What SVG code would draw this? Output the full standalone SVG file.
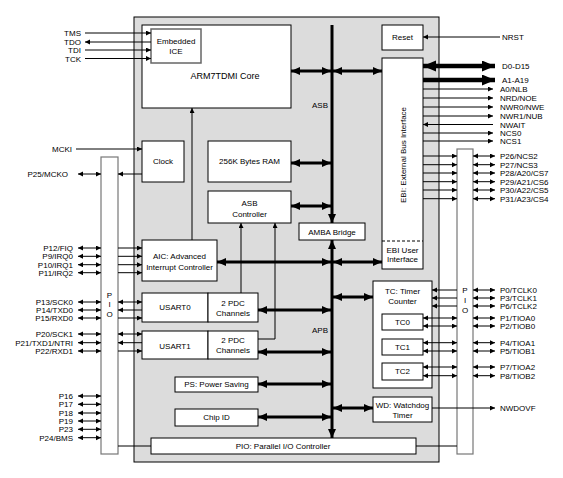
<svg xmlns="http://www.w3.org/2000/svg" width="563" height="478" viewBox="0 0 563 478">
<style>
.box{fill:#fff;stroke:#000;stroke-width:1}
.pio{fill:#fff;stroke:#777;stroke-width:1.2}
.t{font-family:"Liberation Sans",Arial,sans-serif;font-size:8px;fill:#000}
.m{text-anchor:middle}
.e{text-anchor:end}
.ln{stroke:#000;stroke-width:1;fill:none}
.th{stroke:#000;stroke-width:3;fill:none}
.bg{stroke:#000;stroke-width:4.5;fill:none}
</style>
<defs>
<marker id="a" markerUnits="userSpaceOnUse" markerWidth="6" markerHeight="6" refX="5" refY="2.5" orient="auto-start-reverse"><path d="M0,0 L5,2.5 L0,5 z" fill="#000"/></marker>
<marker id="b" markerUnits="userSpaceOnUse" markerWidth="10" markerHeight="9" refX="9" refY="4" orient="auto-start-reverse"><path d="M0,0 L9,4 L0,8 z" fill="#000"/></marker>
<marker id="c" markerUnits="userSpaceOnUse" markerWidth="14" markerHeight="12" refX="13" refY="5.5" orient="auto-start-reverse"><path d="M0,0 L13,5.5 L0,11 z" fill="#000"/></marker>
</defs>
<rect width="563" height="478" fill="#fff"/>
<g id="chip"><rect x="134" y="17" width="305" height="445" fill="#dcdcdc" stroke="#000" stroke-width="1"/></g>
<g id="arm"><rect class="box" x="142" y="25" width="149" height="83"/><text class="t m" x="225" y="79" style="font-size:9px">ARM7TDMI Core</text></g>
<g id="ice"><rect x="151" y="29" width="50" height="34" fill="#fff" stroke="#666" stroke-width="1.5"/><text class="t m" x="176" y="44">Embedded</text><text class="t m" x="176" y="54">ICE</text></g>
<g id="reset"><rect class="box" x="382" y="25" width="41" height="25"/><text class="t m" x="402.5" y="40">Reset</text></g>
<g id="ebi"><rect class="box" x="382" y="58" width="41" height="211"/><line x1="382" y1="241" x2="423" y2="241" stroke="#000" stroke-dasharray="3,2"/><text class="t m" transform="translate(406,155) rotate(-90)" x="0" y="0">EBI: External Bus Interface</text><text class="t m" x="402.5" y="253">EBI User</text><text class="t m" x="402.5" y="262">Interface</text></g>
<g id="clock"><rect class="box" x="142" y="141" width="42" height="41"/><text class="t m" x="163" y="164">Clock</text></g>
<g id="ram"><rect class="box" x="208" y="141" width="83" height="41"/><text class="t m" x="249.5" y="164">256K Bytes RAM</text></g>
<g id="asbc"><rect class="box" x="208" y="191" width="83" height="32"/><text class="t m" x="249.5" y="206">ASB</text><text class="t m" x="249.5" y="217">Controller</text></g>
<g id="amba"><rect class="box" x="299" y="223" width="66" height="17"/><text class="t m" x="332" y="235">AMBA Bridge</text></g>
<g id="aic"><rect class="box" x="142" y="240" width="75" height="41"/><text class="t m" x="179.5" y="259">AIC: Advanced</text><text class="t m" x="179.5" y="270">Interrupt Controller</text></g>
<g id="usart0"><rect class="box" x="142" y="293" width="66" height="29"/><text class="t m" x="175" y="310">USART0</text></g>
<g id="pdc0"><rect class="box" x="208" y="293" width="50" height="29"/><text class="t m" x="233" y="306">2 PDC</text><text class="t m" x="233" y="316">Channels</text></g>
<g id="usart1"><rect class="box" x="142" y="331" width="66" height="28"/><text class="t m" x="175" y="349">USART1</text></g>
<g id="pdc1"><rect class="box" x="208" y="331" width="50" height="28"/><text class="t m" x="233" y="343">2 PDC</text><text class="t m" x="233" y="353">Channels</text></g>
<g id="ps"><rect class="box" x="175" y="377" width="83" height="15"/><text class="t m" x="216.5" y="387">PS: Power Saving</text></g>
<g id="chipid"><rect class="box" x="175" y="409" width="83" height="17"/><text class="t m" x="216.5" y="420">Chip ID</text></g>
<g id="tc"><rect class="box" x="373" y="281" width="59" height="107"/><text class="t m" x="402.5" y="294">TC: Timer</text><text class="t m" x="402.5" y="304">Counter</text></g>
<g id="tc0"><rect class="box" x="382" y="314" width="41" height="16"/><text class="t m" x="402.5" y="325">TC0</text></g>
<g id="tc1"><rect class="box" x="382" y="339" width="41" height="16"/><text class="t m" x="402.5" y="350">TC1</text></g>
<g id="tc2"><rect class="box" x="382" y="363" width="41" height="17"/><text class="t m" x="402.5" y="374">TC2</text></g>
<g id="wd"><rect class="box" x="373" y="397" width="59" height="25"/><text class="t m" x="402.5" y="408">WD: Watchdog</text><text class="t m" x="402.5" y="418">Timer</text></g>
<g id="pioc"><rect class="box" x="151" y="438" width="265" height="16"/><text class="t m" x="283" y="449">PIO: Parallel I/O Controller</text></g>
<g id="pioL"><rect class="pio" x="101" y="157" width="17" height="297"/><text class="t m" x="109.5" y="298">P</text><text class="t m" x="109.5" y="307">I</text><text class="t m" x="109.5" y="317">O</text></g>
<g id="pioR"><rect class="pio" x="457" y="149" width="16" height="305"/><text class="t m" x="465" y="293">P</text><text class="t m" x="465" y="303">I</text><text class="t m" x="465" y="313">O</text></g>
<g id="connectors">
<g class="ln">
<path d="M85,33 H151" marker-end="url(#a)"/>
<path d="M151,42 H85" marker-end="url(#a)"/>
<path d="M85,50 H151" marker-end="url(#a)"/>
<path d="M85,58.5 H151" marker-end="url(#a)"/>
<path d="M192,240 V108" marker-end="url(#a)"/>
<path d="M241,293 V223" marker-end="url(#a)"/>
<path d="M258,339 H275 V223" marker-end="url(#a)"/>
<path d="M500,37 H423" marker-end="url(#a)"/>
<path d="M423,89 H493" marker-end="url(#a)"/>
<path d="M423,98 H493" marker-end="url(#a)"/>
<path d="M423,107 H493" marker-end="url(#a)"/>
<path d="M423,116 H493" marker-end="url(#a)"/>
<path d="M493,124.5 H423" marker-end="url(#a)"/>
<path d="M423,133 H493" marker-end="url(#a)"/>
<path d="M423,141 H493" marker-end="url(#a)"/>
<path d="M423,156 H457" marker-end="url(#a)"/>
<path d="M423,164.7 H457" marker-end="url(#a)"/>
<path d="M423,173 H457" marker-end="url(#a)"/>
<path d="M423,181.7 H457" marker-end="url(#a)"/>
<path d="M423,190 H457" marker-end="url(#a)"/>
<path d="M423,198.7 H457" marker-end="url(#a)"/>
<path d="M473,156 H495" marker-start="url(#a)" marker-end="url(#a)"/>
<path d="M473,164.7 H495" marker-start="url(#a)" marker-end="url(#a)"/>
<path d="M473,173 H495" marker-start="url(#a)" marker-end="url(#a)"/>
<path d="M473,181.7 H495" marker-start="url(#a)" marker-end="url(#a)"/>
<path d="M473,190 H495" marker-start="url(#a)" marker-end="url(#a)"/>
<path d="M473,198.7 H495" marker-start="url(#a)" marker-end="url(#a)"/>
<path d="M457,290 H432" marker-end="url(#a)"/>
<path d="M457,298 H432" marker-end="url(#a)"/>
<path d="M457,306 H432" marker-end="url(#a)"/>
<path d="M423,318 H457" marker-start="url(#a)" marker-end="url(#a)"/>
<path d="M423,326 H457" marker-start="url(#a)" marker-end="url(#a)"/>
<path d="M423,342.7 H457" marker-start="url(#a)" marker-end="url(#a)"/>
<path d="M423,351 H457" marker-start="url(#a)" marker-end="url(#a)"/>
<path d="M423,367 H457" marker-start="url(#a)" marker-end="url(#a)"/>
<path d="M423,375.7 H457" marker-start="url(#a)" marker-end="url(#a)"/>
<path d="M473,290 H495" marker-start="url(#a)" marker-end="url(#a)"/>
<path d="M473,298 H495" marker-start="url(#a)" marker-end="url(#a)"/>
<path d="M473,306 H495" marker-start="url(#a)" marker-end="url(#a)"/>
<path d="M473,318 H495" marker-start="url(#a)" marker-end="url(#a)"/>
<path d="M473,326 H495" marker-start="url(#a)" marker-end="url(#a)"/>
<path d="M473,342.7 H495" marker-start="url(#a)" marker-end="url(#a)"/>
<path d="M473,351 H495" marker-start="url(#a)" marker-end="url(#a)"/>
<path d="M473,367 H495" marker-start="url(#a)" marker-end="url(#a)"/>
<path d="M473,375.7 H495" marker-start="url(#a)" marker-end="url(#a)"/>
<path d="M432,408 H495" marker-end="url(#a)"/>
<path d="M416,446 H457"/>
<path d="M118,446 H151"/>
<path d="M76,149 H142" marker-end="url(#a)"/>
<path d="M78,174 H101" marker-start="url(#a)" marker-end="url(#a)"/>
<path d="M142,174 H118" marker-end="url(#a)"/>
<path d="M78,248 H101" marker-start="url(#a)" marker-end="url(#a)"/>
<path d="M78,256.3 H101" marker-start="url(#a)" marker-end="url(#a)"/>
<path d="M78,264.7 H101" marker-start="url(#a)" marker-end="url(#a)"/>
<path d="M78,272.7 H101" marker-start="url(#a)" marker-end="url(#a)"/>
<path d="M118,248 H142" marker-end="url(#a)"/>
<path d="M118,256.3 H142" marker-end="url(#a)"/>
<path d="M118,264.7 H142" marker-end="url(#a)"/>
<path d="M118,272.7 H142" marker-end="url(#a)"/>
<path d="M78,302 H101" marker-start="url(#a)" marker-end="url(#a)"/>
<path d="M78,310 H101" marker-start="url(#a)" marker-end="url(#a)"/>
<path d="M78,318 H101" marker-start="url(#a)" marker-end="url(#a)"/>
<path d="M118,302 H142" marker-start="url(#a)" marker-end="url(#a)"/>
<path d="M142,310 H118" marker-end="url(#a)"/>
<path d="M118,318 H142" marker-end="url(#a)"/>
<path d="M78,334 H101" marker-start="url(#a)" marker-end="url(#a)"/>
<path d="M78,342.7 H101" marker-start="url(#a)" marker-end="url(#a)"/>
<path d="M78,351 H101" marker-start="url(#a)" marker-end="url(#a)"/>
<path d="M118,334 H142" marker-start="url(#a)" marker-end="url(#a)"/>
<path d="M142,342.7 H118" marker-end="url(#a)"/>
<path d="M118,351 H142" marker-end="url(#a)"/>
<path d="M78,396 H101" marker-start="url(#a)" marker-end="url(#a)"/>
<path d="M78,404.3 H101" marker-start="url(#a)" marker-end="url(#a)"/>
<path d="M78,413 H101" marker-start="url(#a)" marker-end="url(#a)"/>
<path d="M78,421 H101" marker-start="url(#a)" marker-end="url(#a)"/>
<path d="M78,429.3 H101" marker-start="url(#a)" marker-end="url(#a)"/>
<path d="M78,437.7 H101" marker-start="url(#a)" marker-end="url(#a)"/>
</g>
<g class="th">
<path d="M332,25 V223" marker-end="url(#b)"/>
<path d="M332,240 V438" marker-start="url(#b)" marker-end="url(#b)"/>
<path d="M291,71 H331" marker-start="url(#b)" marker-end="url(#b)"/>
<path d="M333,71 H382" marker-start="url(#b)" marker-end="url(#b)"/>
<path d="M291,163 H331" marker-start="url(#b)" marker-end="url(#b)"/>
<path d="M291,206 H331" marker-start="url(#b)" marker-end="url(#b)"/>
<path d="M217,262 H331" marker-start="url(#b)" marker-end="url(#b)"/>
<path d="M333,262 H382" marker-start="url(#b)" marker-end="url(#b)"/>
<path d="M333,297 H373" marker-start="url(#b)" marker-end="url(#b)"/>
<path d="M258,310 H331" marker-start="url(#b)" marker-end="url(#b)"/>
<path d="M258,352 H331" marker-start="url(#b)" marker-end="url(#b)"/>
<path d="M258,384 H331" marker-start="url(#b)" marker-end="url(#b)"/>
<path d="M258,417 H331" marker-start="url(#b)" marker-end="url(#b)"/>
<path d="M333,408 H373" marker-start="url(#b)" marker-end="url(#b)"/>
</g>
<g class="bg">
<path d="M423,66 H495" marker-start="url(#c)" marker-end="url(#c)"/>
<path d="M423,80 H495" marker-end="url(#c)"/>
</g>
</g>
<g id="labels">
<text class="t" x="320" y="108" text-anchor="middle">ASB</text>
<text class="t" x="320" y="333" text-anchor="middle">APB</text>
<text class="t e" x="81" y="36">TMS</text>
<text class="t e" x="81" y="45">TDO</text>
<text class="t e" x="81" y="53">TDI</text>
<text class="t e" x="81" y="61.5">TCK</text>
<text class="t e" x="72" y="152">MCKI</text>
<text class="t e" x="68" y="177">P25/MCKO</text>
<text class="t e" x="73" y="251">P12/FIQ</text>
<text class="t e" x="73" y="259.3">P9/IRQ0</text>
<text class="t e" x="73" y="267.7">P10/IRQ1</text>
<text class="t e" x="73" y="275.7">P11/IRQ2</text>
<text class="t e" x="73" y="305">P13/SCK0</text>
<text class="t e" x="73" y="313">P14/TXD0</text>
<text class="t e" x="73" y="321">P15/RXD0</text>
<text class="t e" x="73" y="337">P20/SCK1</text>
<text class="t e" x="73" y="345.7">P21/TXD1/NTRI</text>
<text class="t e" x="73" y="354">P22/RXD1</text>
<text class="t e" x="73" y="399">P16</text>
<text class="t e" x="73" y="407.3">P17</text>
<text class="t e" x="73" y="416">P18</text>
<text class="t e" x="73" y="424">P19</text>
<text class="t e" x="73" y="432.3">P23</text>
<text class="t e" x="73" y="440.7">P24/BMS</text>
<text class="t" x="502" y="40">NRST</text>
<text class="t" x="502" y="69">D0-D15</text>
<text class="t" x="502" y="83">A1-A19</text>
<text class="t" x="500" y="92">A0/NLB</text>
<text class="t" x="500" y="101">NRD/NOE</text>
<text class="t" x="500" y="110">NWR0/NWE</text>
<text class="t" x="500" y="119">NWR1/NUB</text>
<text class="t" x="500" y="127.5">NWAIT</text>
<text class="t" x="500" y="136">NCS0</text>
<text class="t" x="500" y="144">NCS1</text>
<text class="t" x="500" y="159">P26/NCS2</text>
<text class="t" x="500" y="167.7">P27/NCS3</text>
<text class="t" x="500" y="176">P28/A20/CS7</text>
<text class="t" x="500" y="184.7">P29/A21/CS6</text>
<text class="t" x="500" y="193">P30/A22/CS5</text>
<text class="t" x="500" y="201.7">P31/A23/CS4</text>
<text class="t" x="500" y="293">P0/TCLK0</text>
<text class="t" x="500" y="301">P3/TCLK1</text>
<text class="t" x="500" y="309">P6/TCLK2</text>
<text class="t" x="500" y="321">P1/TIOA0</text>
<text class="t" x="500" y="329">P2/TIOB0</text>
<text class="t" x="500" y="345.7">P4/TIOA1</text>
<text class="t" x="500" y="354">P5/TIOB1</text>
<text class="t" x="500" y="370">P7/TIOA2</text>
<text class="t" x="500" y="378.7">P8/TIOB2</text>
<text class="t" x="500" y="411">NWDOVF</text>
</g>
</svg>
